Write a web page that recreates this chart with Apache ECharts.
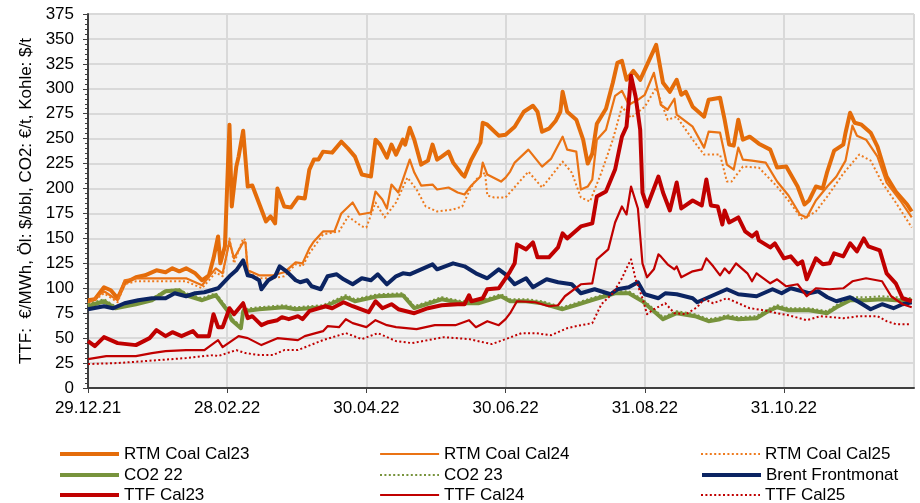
<!DOCTYPE html>
<html>
<head>
<meta charset="utf-8">
<script src="https://cdn.jsdelivr.net/npm/echarts@6/dist/echarts.min.js"></script>
<style>
  html, body { margin: 0; padding: 0; background: #fff; }
  #chart { width: 920px; height: 503px; }
</style>
</head>
<body>
<div id="chart"></div>
<script>
// x = Tage seit 29.12.21, y = Preis
const tickLabels = ['29.12.21', '28.02.22', '30.04.22', '30.06.22', '31.08.22', '31.10.22']

const coal23 = [[0,88],[3,89],[7,101],[10,98],[13,90],[16,105],[21,111],[25,113],[30,118],[34,116],[37,120],[40,117],[43,120],[47,115],[50,108],[53,113],[55,130],[57,152],[58,125],[60,142],[62,264],[63,182],[65,222],[66,232],[68,258],[70,202],[72,203],[75,185],[78,167],[80,172],[82,165],[83,200],[86,182],[89,181],[92,191],[95,190],[97,219],[99,229],[101,229],[103,237],[107,236],[111,247],[114,240],[117,232],[120,214],[124,212],[126,249],[128,244],[131,231],[133,244],[135,234],[138,249],[139,244],[141,261],[143,249],[146,224],[149,228],[151,244],[153,229],[155,232],[158,237],[160,226],[164,214],[165,212],[168,229],[172,246],[173,266],[175,264],[180,253],[183,254],[187,262],[191,277],[195,283],[197,277],[199,257],[202,260],[205,268],[207,277],[208,297],[210,277],[214,269],[217,249],[219,225],[221,235],[223,265],[227,280],[230,306],[232,326],[234,328],[236,309],[239,318],[242,309],[245,324],[249,344],[252,306],[255,297],[258,309],[260,294],[262,297],[265,282],[270,272],[272,289],[277,291],[279,269],[281,244],[283,243],[285,269],[287,249],[290,252],[294,245],[299,239],[302,221],[306,222],[311,202],[314,184],[316,188],[319,202],[322,200],[324,217],[327,238],[331,244],[332,256],[334,276],[336,266],[339,264],[343,256],[346,242],[350,212],[354,197],[359,184],[361,177]]

const coal24 = [[0,85],[7,97],[13,88],[16,108],[21,110],[30,110],[43,110],[50,103],[56,120],[59,115],[62,147],[64,130],[68,146],[69,146],[70,118],[75,113],[81,113],[86,116],[91,126],[94,125],[97,140],[99,147],[103,157],[108,157],[111,175],[116,186],[119,174],[124,176],[126,197],[129,189],[131,180],[133,204],[136,196],[138,209],[141,229],[143,216],[146,203],[151,204],[153,199],[158,201],[162,196],[165,194],[168,203],[172,212],[173,226],[175,214],[181,207],[183,211],[185,217],[187,226],[193,239],[199,222],[203,230],[208,252],[210,239],[214,237],[216,199],[219,202],[221,209],[223,249],[227,259],[231,293],[234,298],[237,284],[241,289],[244,294],[248,316],[251,284],[254,279],[257,290],[258,274],[265,262],[270,241],[272,257],[277,256],[280,224],[283,219],[285,241],[287,229],[291,228],[297,226],[302,207],[307,193],[312,174],[315,171],[319,188],[324,202],[328,212],[332,228],[335,263],[337,253],[341,249],[346,232],[350,206],[356,188],[361,171]]

const coal25 = [[0,83],[7,95],[13,86],[16,104],[21,107],[30,107],[43,107],[50,100],[56,116],[59,112],[62,150],[64,125],[68,150],[69,148],[70,116],[75,110],[81,110],[86,112],[91,124],[94,122],[97,135],[103,154],[110,157],[114,172],[120,162],[122,161],[126,186],[130,171],[135,186],[140,211],[144,199],[148,182],[153,177],[160,179],[164,182],[167,197],[170,209],[174,216],[175,193],[178,191],[183,191],[193,217],[199,201],[208,227],[212,216],[216,191],[220,187],[225,216],[230,249],[234,282],[238,271],[244,282],[249,301],[254,269],[258,272],[265,249],[270,234],[277,234],[280,207],[282,207],[287,222],[294,221],[302,202],[307,188],[313,169],[319,177],[324,192],[331,215],[338,234],[343,228],[348,206],[354,186],[361,161]]

const co2y22 = [[0,82],[7,87],[12,80],[21,84],[28,88],[34,97],[40,98],[43,93],[50,88],[56,93],[59,84],[61,78],[63,68],[67,60],[68,77],[75,79],[86,81],[91,79],[103,81],[113,91],[117,87],[127,92],[138,93],[143,80],[155,89],[164,85],[171,85],[181,92],[185,87],[192,87],[199,85],[208,79],[215,84],[222,89],[231,95],[237,95],[243,87],[247,79],[252,69],[258,75],[266,72],[272,67],[277,69],[280,71],[285,69],[293,70],[298,77],[302,81],[307,78],[316,78],[324,75],[328,81],[334,88],[341,88],[348,89],[354,88],[361,88]]

const co2y23 = [[0,84],[7,89],[12,82],[21,86],[28,90],[34,98],[40,99],[43,95],[50,90],[56,95],[59,86],[61,80],[63,70],[67,62],[68,79],[75,81],[86,83],[91,81],[103,83],[113,93],[117,89],[127,94],[138,95],[143,82],[155,91],[164,87],[171,87],[181,94],[185,89],[192,89],[199,87],[208,81],[215,86],[222,91],[231,97],[237,97],[243,89],[247,81],[252,71],[258,77],[266,74],[272,69],[277,71],[280,73],[285,71],[293,72],[298,79],[302,83],[307,80],[316,80],[324,77],[328,83],[334,91],[341,91],[348,92],[354,91],[361,90]]

const brent = [[0,79],[7,82],[11,80],[16,85],[22,88],[28,90],[34,90],[38,95],[43,92],[47,95],[51,96],[57,100],[62,112],[65,118],[68,128],[70,113],[72,112],[75,108],[76,99],[79,108],[82,112],[84,122],[87,117],[91,108],[93,106],[96,108],[98,102],[102,99],[105,112],[109,114],[112,109],[116,104],[120,110],[124,108],[127,114],[131,104],[135,112],[138,115],[141,114],[146,119],[151,124],[153,119],[160,125],[165,122],[170,115],[175,110],[180,119],[183,114],[187,104],[192,110],[195,101],[201,109],[206,106],[212,104],[216,95],[222,99],[229,94],[232,99],[237,101],[241,106],[244,94],[250,90],[253,95],[258,94],[265,90],[267,86],[272,91],[280,99],[285,94],[293,92],[300,99],[304,95],[308,100],[313,97],[316,95],[320,97],[324,91],[328,87],[334,91],[338,86],[343,79],[348,84],[353,80],[357,84],[361,86]]

const ttf23 = [[0,47],[3,42],[7,51],[11,47],[13,45],[21,43],[27,50],[30,58],[34,52],[37,56],[41,52],[46,57],[48,52],[53,52],[55,74],[57,61],[59,61],[62,80],[64,74],[68,85],[70,70],[72,72],[76,63],[79,66],[83,68],[85,71],[88,69],[92,72],[94,69],[97,77],[104,82],[107,80],[112,86],[116,82],[123,76],[126,87],[129,80],[133,84],[136,79],[143,75],[149,80],[155,83],[162,84],[165,84],[167,93],[168,87],[173,90],[175,99],[180,100],[183,110],[185,117],[187,125],[188,144],[192,139],[195,146],[197,131],[202,131],[206,141],[208,155],[210,150],[216,162],[221,165],[223,192],[227,197],[231,219],[234,252],[236,262],[238,313],[240,292],[242,259],[243,196],[245,182],[248,200],[250,212],[252,196],[255,178],[258,206],[260,180],[265,188],[269,183],[271,209],[273,183],[276,182],[278,164],[279,178],[281,166],[285,171],[288,157],[291,152],[293,156],[294,148],[299,141],[301,145],[305,130],[308,132],[311,124],[313,127],[315,109],[319,130],[322,124],[325,125],[327,135],[331,132],[334,145],[337,137],[340,150],[342,142],[347,138],[350,115],[354,105],[357,90],[361,87]]

const ttf24 = [[0,29],[8,32],[21,32],[28,35],[34,37],[43,38],[51,38],[57,48],[59,41],[66,52],[70,50],[76,43],[83,50],[92,48],[95,52],[103,57],[105,62],[110,61],[113,69],[116,65],[122,61],[126,68],[131,63],[135,61],[144,59],[152,63],[161,63],[167,68],[170,61],[175,67],[180,63],[183,69],[185,75],[188,87],[196,86],[202,82],[206,83],[209,92],[216,104],[221,105],[223,129],[228,139],[231,166],[234,182],[236,174],[238,202],[241,180],[243,125],[245,111],[248,119],[250,134],[251,132],[254,124],[257,119],[258,122],[260,111],[265,117],[269,119],[271,130],[274,122],[277,113],[279,120],[281,115],[284,125],[289,115],[291,107],[293,115],[299,105],[302,109],[306,102],[311,104],[315,92],[319,100],[325,99],[331,100],[335,107],[341,110],[348,107],[352,92],[357,84],[361,81]]

const ttf25 = [[0,24],[13,25],[43,30],[55,33],[57,32],[65,38],[69,35],[75,33],[81,33],[86,38],[92,38],[103,48],[113,55],[120,49],[127,55],[135,47],[142,45],[156,51],[167,49],[177,44],[183,49],[190,55],[196,55],[203,53],[210,60],[216,63],[221,65],[225,84],[230,95],[234,110],[236,120],[238,129],[240,109],[243,90],[245,74],[248,79],[253,85],[257,75],[262,74],[267,81],[270,89],[274,85],[280,90],[284,86],[290,80],[296,78],[302,75],[307,73],[315,68],[321,72],[331,70],[338,72],[346,72],[350,67],[354,64],[360,64]]

// Legende: 3 Spalten x 3 Zeilen wie im Original
const legendRows = [
    ['RTM Coal Cal23', 'RTM Coal Cal24', 'RTM Coal Cal25'],
    ['CO2 22', 'CO2 23', 'Brent Frontmonat'],
    ['TTF Cal23', 'TTF Cal24', 'TTF Cal25']
]

const font = 'Liberation Sans, Arial, sans-serif'
const dots = [2, 2.4]

function line(name, data, color, width, type) {
    return {
        name: name,
        type: 'line',
        data: data,
        showSymbol: false,
        symbol: 'none',
        lineStyle: { color: color, width: width, type: type || 'solid', join: 'round' },
        itemStyle: { color: color },
        emphasis: { disabled: true }
    }
}

const series = [
    line('RTM Coal Cal23', coal23, '#E46C0A', 4),
    line('RTM Coal Cal24', coal24, '#EA7314', 2.2),
    line('RTM Coal Cal25', coal25, '#EE7B1E', 2, dots),
    line('CO2 22', co2y22, '#77933C', 4),
    line('CO2 23', co2y23, '#77933C', 2, dots),
    line('Brent Frontmonat', brent, '#0B2462', 4),
    line('TTF Cal23', ttf23, '#C00000', 4),
    line('TTF Cal24', ttf24, '#C00000', 2.2),
    line('TTF Cal25', ttf25, '#C00000', 2, dots)
]

const legends = []
const colLeft = [58, 379, 700]
const rowTop = [445, 466, 486]
legendRows.forEach(function (row, r) {
    row.forEach(function (name, c) {
        legends.push({
            left: colLeft[c],
            top: rowTop[r],
            itemWidth: 59,
            itemHeight: 12,
            itemGap: 0,
            padding: 0,
            data: [name],
            itemStyle: { opacity: 0 },
            lineStyle: { width: 'inherit' },
            textStyle: { fontFamily: font, fontSize: 17, lineHeight: 18, color: '#000' },
            selectedMode: false
        })
    })
})

const chart = echarts.init(document.getElementById('chart'), null, { renderer: 'canvas' })
chart.setOption({
    animation: false,
    backgroundColor: '#fff',
    grid: {
        left: 88, right: 6, top: 14, bottom: 115,
        show: true, backgroundColor: '#F2F2F2', borderWidth: 0
    },
    legend: legends,
    xAxis: {
        type: 'value',
        min: 0,
        max: 362,
        interval: 61,
        axisLine: { show: true, onZero: false, lineStyle: { color: '#404040', width: 2 } },
        axisTick: { show: true, length: 5, lineStyle: { color: '#404040', width: 1 } },
        splitLine: { show: true, lineStyle: { color: '#D9D9D9', width: 2 } },
        axisLabel: {
            margin: 12,
            fontFamily: font, fontSize: 17, color: '#000',
            showMaxLabel: false,
            formatter: function (v) {
                return v % 61 === 0 ? (tickLabels[v / 61] || '') : ''
            }
        }
    },
    yAxis: {
        type: 'value',
        min: 0,
        max: 375,
        interval: 25,
        name: 'TTF:  €/MWh, Öl: $/bbl, CO2: €/t, Kohle: $/t',
        nameLocation: 'middle',
        nameGap: 52,
        nameTextStyle: { fontFamily: font, fontSize: 17, color: '#000' },
        axisLine: { show: true, lineStyle: { color: '#404040', width: 2 } },
        axisTick: { show: true, length: 5, lineStyle: { color: '#404040', width: 1 } },
        minorTick: { show: true, splitNumber: 5, length: 3, lineStyle: { color: '#404040', width: 1 } },
        splitLine: { show: true, lineStyle: { color: '#D9D9D9', width: 2 } },
        axisLabel: { margin: 14, fontFamily: font, fontSize: 17, color: '#000' }
    },
    series: series
})
</script>
</body>
</html>
